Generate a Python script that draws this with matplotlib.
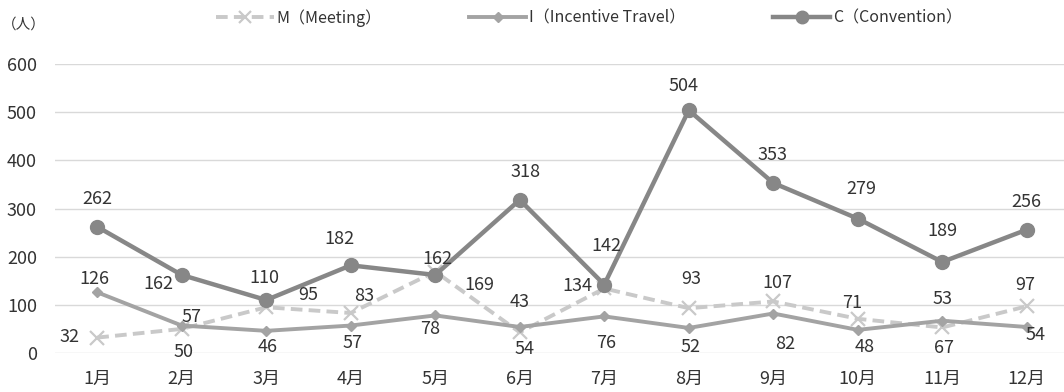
import numpy as np
import matplotlib
matplotlib.use('Agg')
import matplotlib.pyplot as plt
from matplotlib.lines import Line2D

plt.rcParams['font.family'] = ['Noto Sans CJK JP', 'DejaVu Sans']

months = ['1月', '2月', '3月', '4月', '5月', '6月',
          '7月', '8月', '9月', '10月', '11月', '12月']
meeting    = [32, 50, 95, 83, 169, 43, 134, 93, 107, 71, 53, 97]
incentive  = [126, 57, 46, 57, 78, 54, 76, 52, 82, 48, 67, 54]
convention = [262, 162, 110, 182, 162, 318, 142, 504, 353, 279, 189, 256]
yticks = [0, 100, 200, 300, 400, 500, 600]

# label offsets in pixels (dx, dy up)
off_m = [(-28, 1), (2, -23), (42, 12), (13, 17), (44, -13), (0, 30),
         (-27, 2), (2, 29), (4, 18), (-6, 16), (0, 28), (-1, 21)]
off_i = [(-3, 13), (10, 9), (1, -16), (2, -17), (-5, -14), (5, -22),
         (2, -27), (2, -19), (12, -30), (7, -17), (2, -27), (9, -8)]
off_c = [(0, 28), (-23, -9), (-2, 22), (-11, 26), (2, 16), (6, 28),
         (2, 39), (-5, 24), (-1, 28), (4, 30), (0, 31), (0, 28)]

col_m = '#c9c9c9'
col_i = '#a3a3a3'
col_c = '#878787'
txt = '#333333'

fig = plt.figure(figsize=(10.64, 3.92), dpi=100)
ax = fig.add_axes([55 / 1064, 39 / 392, 1014 / 1064, 289 / 392])

x = np.arange(len(months))
ax.plot(x, meeting, color=col_m, lw=2.8, dashes=(3, 1.6), marker='x',
        ms=10, mew=1.6, zorder=2)
ax.plot(x, incentive, color=col_i, lw=2.8, marker='D', ms=5, zorder=3)
ax.plot(x, convention, color=col_c, lw=3.2, marker='o', ms=10, zorder=4)

for vals, offs in ((meeting, off_m), (incentive, off_i), (convention, off_c)):
    for xi, v, (dx, dy) in zip(x, vals, offs):
        ax.annotate(str(v), (xi, v), xytext=(dx, dy), textcoords='offset pixels',
                    ha='center', va='center', fontsize=13, color=txt, zorder=6)

ax.set_xlim(-0.5, 11.5)
ax.set_ylim(0, 600)
ax.set_yticks(yticks)
ax.set_xticks(x)
ax.set_xticklabels(months)
ax.tick_params(length=0, labelsize=13, labelcolor=txt)
ax.tick_params(axis='y', pad=13)
ax.tick_params(axis='x', pad=12)
ax.grid(axis='y', color='#d9d9d9', lw=1)
ax.set_axisbelow(True)
for s in ax.spines.values():
    s.set_visible(False)

fig.text(24 / 1064, 1 - 25 / 392, '（人）', ha='center', va='center',
         fontsize=10.5, color=txt)

handles = [
    Line2D([], [], color=col_m, lw=2.8, dashes=(3, 1.6), marker='x', ms=8, mew=1.6),
    Line2D([], [], color=col_i, lw=2.8, marker='D', ms=5),
    Line2D([], [], color=col_c, lw=3.2, marker='o', ms=9),
]
labels = ['M（Meeting）', 'I（Incentive Travel）', 'C（Convention）']
fig.legend(handles, labels, loc='center', bbox_to_anchor=(589 / 1064, 1 - 18 / 392),
           ncol=3, frameon=False, fontsize=11.5, handlelength=3.6,
           handletextpad=0.15, columnspacing=5.5, labelcolor=txt)

fig.savefig('out.png', dpi=100)
